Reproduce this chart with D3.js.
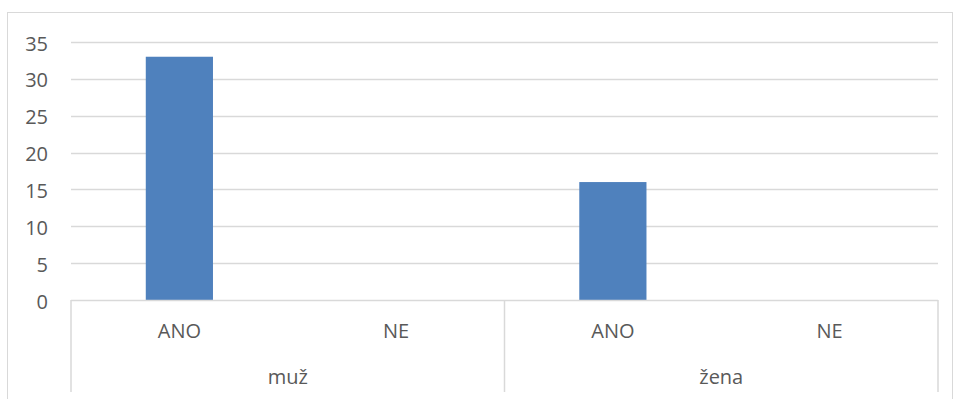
<!DOCTYPE html>
<html>
<head>
<meta charset="utf-8">
<script src="https://cdn.jsdelivr.net/npm/d3@7"></script>
<style>
  html, body { margin: 0; padding: 0; background: #fff; }
  svg { display: block; }
  text { font-family: "Open Sans", sans-serif; fill: #595959; }
</style>
</head>
<body>
<svg id="chart" width="953" height="399"></svg>
<script>
// Chart data
const groups = ["muž", "žena"];
const answers = ["ANO", "NE"];
const values = [
  [33, 0],   // muž: ANO, NE
  [16, 0]    // žena: ANO, NE
];
const yTicks = [0, 5, 10, 15, 20, 25, 30, 35];

const plot = { left: 71, right: 938, top: 42, bottom: 300 };
const fontSize = "20px";
const svg = d3.select("#chart");

// Outer chart frame
svg.append("rect")
  .attr("x", 7.5).attr("y", 12.5)
  .attr("width", 945).attr("height", 400)
  .attr("fill", "none").attr("stroke", "#d9d9d9").attr("stroke-width", 1);

// Flattened categories for the two-level axis
const cats = [];
groups.forEach((g, gi) => answers.forEach((a, ai) => cats.push({ group: g, answer: a, value: values[gi][ai], key: g + "|" + a })));

const x = d3.scaleBand().domain(cats.map(d => d.key)).range([plot.left, plot.right]);
const xGroup = d3.scaleBand().domain(groups).range([plot.left, plot.right]);
const y = d3.scaleLinear().domain([0, 35]).range([plot.bottom, plot.top]);

// Gridlines
svg.append("g").selectAll("line").data(yTicks.filter(t => t > 0)).join("line")
  .attr("x1", plot.left).attr("x2", plot.right)
  .attr("y1", d => Math.round(y(d)) + 0.5).attr("y2", d => Math.round(y(d)) + 0.5)
  .attr("stroke", "#d9d9d9").attr("stroke-width", 1.5);

// Y axis labels
const yAxis = d3.axisLeft(y).tickValues(yTicks).tickSize(0).tickPadding(0);
const gy = svg.append("g").attr("transform", "translate(48,1)").call(yAxis);
gy.select(".domain").remove();
gy.selectAll("text").style("font-size", fontSize).style("font-family", "'Open Sans', sans-serif").attr("fill", "#595959").attr("dy", "0.35em");

// Bars (bar ≈ 31% of category band)
const barW = x.bandwidth() * 0.31;
svg.append("g").selectAll("rect").data(cats).join("rect")
  .attr("x", d => x(d.key) + (x.bandwidth() - barW) / 2)
  .attr("width", barW)
  .attr("y", d => y(d.value))
  .attr("height", d => y(0) - y(d.value))
  .attr("fill", "#4f81bd");

// Category axis: baseline and group separators
const axisG = svg.append("g").attr("stroke", "#d9d9d9").attr("stroke-width", 1.5);
axisG.append("line")
  .attr("x1", plot.left).attr("x2", plot.right)
  .attr("y1", plot.bottom + 0.5).attr("y2", plot.bottom + 0.5);
const seps = groups.map(g => xGroup(g)).concat([plot.right]);
axisG.selectAll("line.sep").data(seps).join("line").attr("class", "sep")
  .attr("x1", d => d).attr("x2", d => d)
  .attr("y1", plot.bottom).attr("y2", 392);

// Sub-category labels
svg.append("g").selectAll("text").data(cats).join("text")
  .attr("x", d => x(d.key) + x.bandwidth() / 2)
  .attr("y", 337.5)
  .attr("text-anchor", "middle")
  .style("font-size", fontSize)
  .text(d => d.answer);

// Group labels
svg.append("g").selectAll("text").data(groups).join("text")
  .attr("x", d => xGroup(d) + xGroup.bandwidth() / 2)
  .attr("y", 383.5)
  .attr("text-anchor", "middle")
  .style("font-size", fontSize)
  .text(d => d);
</script>
</body>
</html>
